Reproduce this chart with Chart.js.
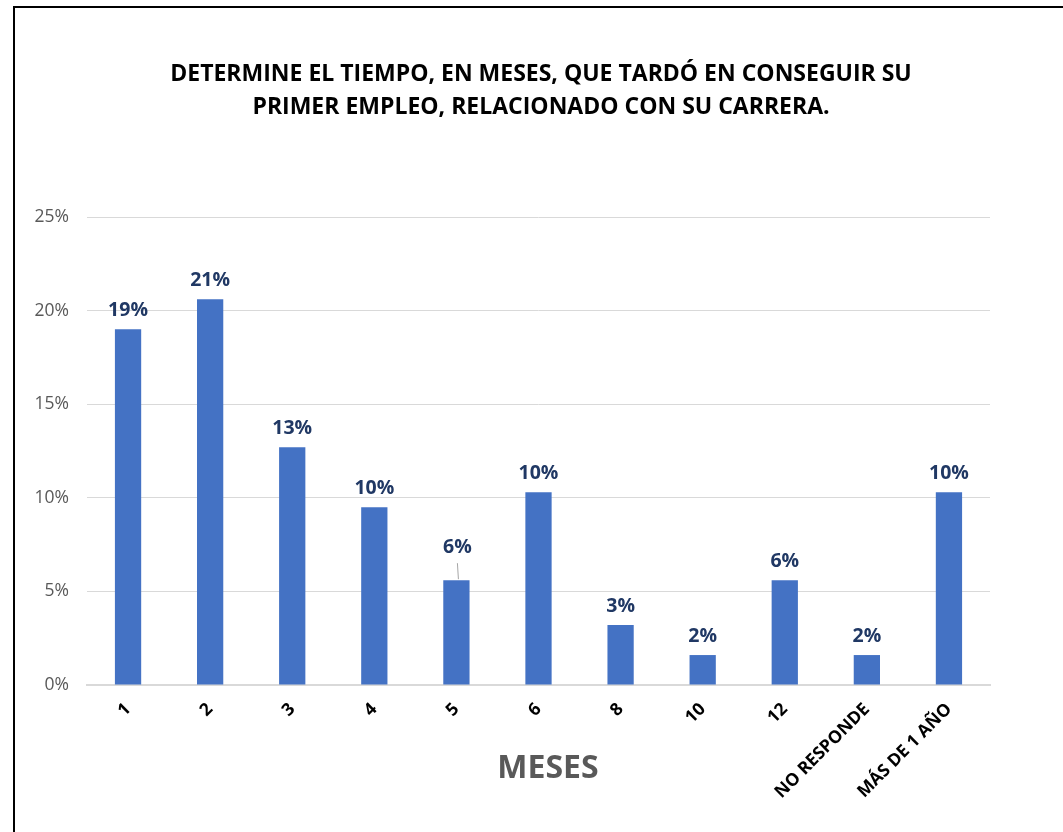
<!DOCTYPE html>
<html>
<head>
<meta charset="utf-8">
<script src="https://cdn.jsdelivr.net/npm/chart.js@4/dist/chart.umd.min.js"></script>
<style>
    html, body { margin: 0; padding: 0; background: #fff; }
    #wrap { width: 1063px; height: 832px; }
</style>
</head>
<body>
<div id="wrap"><canvas id="chart" width="1063" height="832"></canvas></div>
<script>
// Data
const categories = ['1', '2', '3', '4', '5', '6', '8', '10', '12', 'NO RESPONDE', 'MÁS DE 1 AÑO'];
const shares = [0.190, 0.206, 0.127, 0.095, 0.056, 0.103, 0.032, 0.016, 0.056, 0.016, 0.103];
const titleLines = ['DETERMINE EL TIEMPO, EN MESES, QUE TARDÓ EN CONSEGUIR SU', 'PRIMER EMPLEO, RELACIONADO CON SU CARRERA.'];
const axisTitle = 'MESES';

const FONT = '"Open Sans", sans-serif';

// Frame + titles drawn directly on the canvas
const decorPlugin = {
    id: 'decor',
    beforeDraw(chart) {
        const ctx = chart.ctx;
        ctx.save();
        ctx.fillStyle = '#fff';
        ctx.fillRect(0, 0, chart.width, chart.height);
        ctx.strokeStyle = '#000';
        ctx.lineWidth = 2;
        ctx.strokeRect(14, 7, chart.width + 10, chart.height + 10);
        ctx.restore();
    },
    afterDraw(chart) {
        const ctx = chart.ctx;
        ctx.save();
        ctx.fillStyle = '#000';
        ctx.textAlign = 'center';
        ctx.textBaseline = 'middle';
        ctx.font = 'bold 23px ' + FONT;
        ctx.fillText(titleLines[0], 541, 74);
        ctx.fillText(titleLines[1], 541, 107);

        ctx.fillStyle = '#595959';
        ctx.font = 'bold 32px ' + FONT;
        ctx.fillText(axisTitle, 548, 769);
        ctx.restore();
    }
};

// Value labels above each bar
const barLabels = {
    id: 'barLabels',
    afterDatasetsDraw(chart) {
        const ctx = chart.ctx;
        const meta = chart.getDatasetMeta(0);
        ctx.save();
        ctx.fillStyle = '#203864';
        ctx.font = 'bold 19.5px ' + FONT;
        ctx.textAlign = 'center';
        ctx.textBaseline = 'middle';
        meta.data.forEach((bar, i) => {
            const text = Math.round(shares[i] * 100) + '%';
            if (i === 4) {
                // this one sits higher with a leader line
                ctx.fillText(text, bar.x + 1, bar.y - 33);
                ctx.strokeStyle = '#a6a6a6';
                ctx.lineWidth = 1;
                ctx.beginPath();
                ctx.moveTo(bar.x + 1, bar.y - 17);
                ctx.lineTo(bar.x + 2, bar.y - 1);
                ctx.stroke();
            } else {
                ctx.fillText(text, bar.x, bar.y - 19);
            }
        });
        ctx.restore();
    }
};

const ctx = document.getElementById('chart').getContext('2d');
new Chart(ctx, {
    type: 'bar',
    data: {
        labels: categories,
        datasets: [{
            data: shares,
            backgroundColor: '#4472c4',
            barPercentage: 0.64,
            categoryPercentage: 0.5
        }]
    },
    options: {
        responsive: false,
        animation: false,
        layout: { padding: { top: 217, right: 73, left: 0, bottom: 0 } },
        plugins: {
            legend: { display: false },
            title: { display: false },
            tooltip: { enabled: false }
        },
        scales: {
            x: {
                grid: { display: false, drawTicks: false },
                border: { color: '#d9d9d9', width: 2 },
                ticks: {
                    color: '#000',
                    font: { family: FONT, size: 17.5, weight: 'bold' },
                    maxRotation: 45,
                    minRotation: 45,
                    padding: 14
                },
                afterFit(scale) { scale.height = 147; }
            },
            y: {
                min: 0,
                max: 0.25,
                grid: { color: '#d9d9d9', drawTicks: false },
                border: { display: false },
                ticks: {
                    stepSize: 0.05,
                    color: '#595959',
                    padding: 18,
                    font: { family: FONT, size: 17.5 },
                    callback: v => Math.round(v * 100) + '%'
                },
                afterFit(scale) { scale.width = 87; }
            }
        }
    },
    plugins: [decorPlugin, barLabels]
});
</script>
</body>
</html>
